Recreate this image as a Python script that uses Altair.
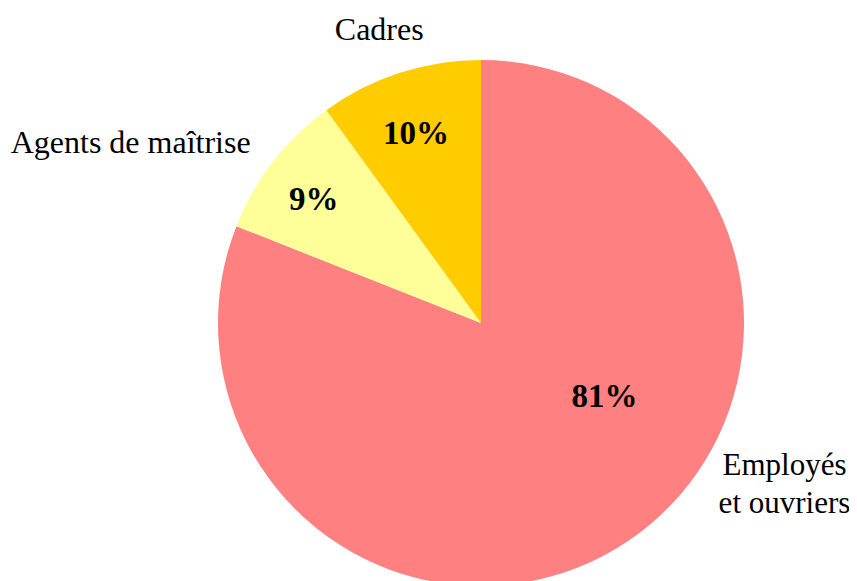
import altair as alt
import pandas as pd

categories = ["Employés et ouvriers", "Agents de maîtrise", "Cadres"]
names = ["Employés\net ouvriers", "Agents de maîtrise", "Cadres"]
values = [81, 9, 10]
pct_labels = ["81%", "9%", "10%"]
colors = ["#FF8080", "#FFFF99", "#FFCC00"]

df = pd.DataFrame({
    "cat": categories,
    "name": names,
    "value": values,
    "pct": pct_labels,
    "idx": list(range(len(categories))),
})

CX, CY = 473, 315
R = 263
FONT = "Liberation Serif"

base = alt.Chart(df).encode(
    theta=alt.Theta("value:Q", stack=True),
    order=alt.Order("idx:Q"),
    x=alt.value(CX),
    y=alt.value(CY),
)

pie = base.mark_arc(outerRadius=R, stroke=None).encode(
    color=alt.Color("cat:N", scale=alt.Scale(domain=categories, range=colors), legend=None)
)

def label_layer(cat, field, radius, dx, dy, size, bold):
    return base.transform_calculate(
        t=f"datum.cat === '{cat}' ? datum.{field} : ''"
    ).mark_text(
        radius=radius, dx=dx, dy=dy, font=FONT, fontSize=size,
        fontWeight="bold" if bold else "normal", color="black",
        align="center", baseline="middle", lineBreak="\n", lineHeight=38,
    ).encode(text="t:N")

layers = [
    pie,
    label_layer("Employés et ouvriers", "pct", 143, 43, -44, 33, True),
    label_layer("Agents de maîtrise", "pct", 208, -3, 4, 33, True),
    label_layer("Cadres", "pct", 201, -3, 2, 33, True),
    label_layer("Employés et ouvriers", "name", 346, 109, -143, 31, False),
    label_layer("Agents de maîtrise", "name", 394, -39, 61, 32, False),
    label_layer("Cadres", "name", 310, -6, 2, 32, False),
]

chart = alt.layer(*layers).properties(
    width=841, height=573, padding=0, autosize="none"
).configure_view(stroke=None)

chart.save("out.html", embed_options={"renderer": "svg", "actions": False})
